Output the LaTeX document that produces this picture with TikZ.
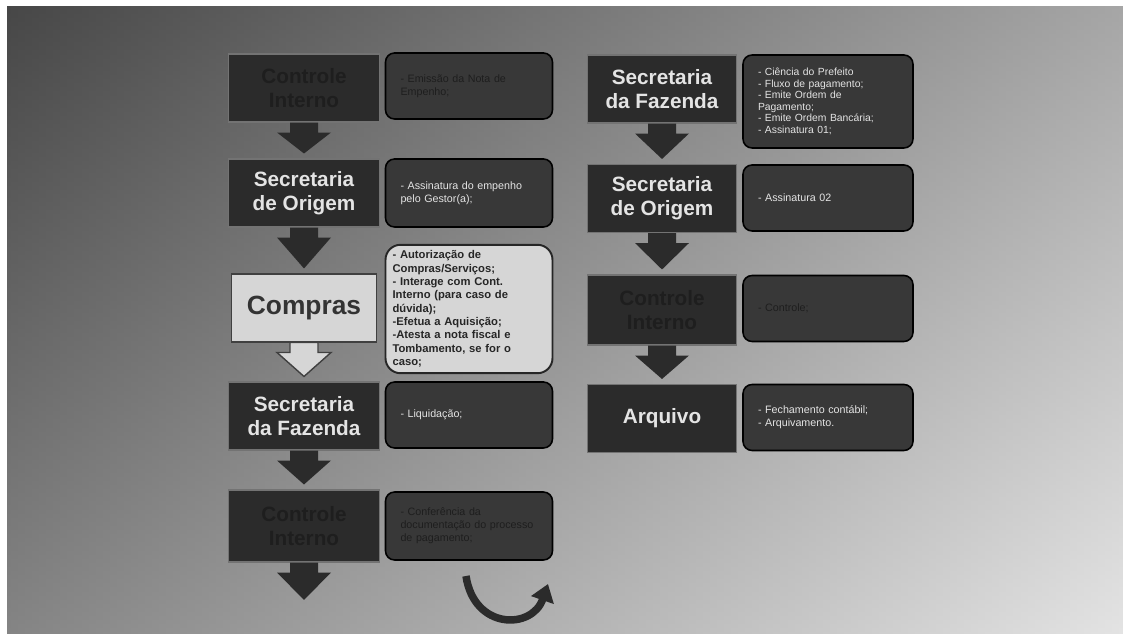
\documentclass[tikz,border=0pt]{standalone}
\usepackage{fontspec}
\setmainfont{Liberation Sans}
\usetikzlibrary{calc,arrows.meta,positioning}

\definecolor{stagefill}{HTML}{2B2B2B}
\definecolor{notefill}{HTML}{383838}
\definecolor{lightfill}{HTML}{D6D6D6}
\definecolor{paletext}{HTML}{E4E4E4}
\definecolor{hiddentext}{HTML}{1E1E1E}

\tikzset{
  stage/.style={rectangle, fill=stagefill, draw=black!55, line width=0.6pt,
    minimum width=3.02cm, minimum height=1.36cm, align=center, text=paletext,
    font=\fontsize{11.8}{13.8}\selectfont\bfseries},
  note/.style={rectangle, rounded corners=0.18cm, fill=notefill, draw=black,
    line width=0.9pt, minimum width=3.34cm, minimum height=1.32cm,
    inner xsep=0.3cm, text width=2.74cm, align=left, text=paletext,
    font=\fontsize{6.1}{7.3}\selectfont},
  lightnote/.style={note, fill=lightfill, draw=black!85, line width=1.1pt,
    rounded corners=0.3cm, inner xsep=0.14cm, text width=3.06cm, text=black!85,
    font=\fontsize{6.4}{7.6}\selectfont\bfseries},
  flowarrow/.style={fill=stagefill},
  lightarrow/.style={fill=lightfill, draw=black!75, line width=0.8pt},
}

% block arrow from the bottom of #2 down to the top of #3
\newcommand{\blockdown}[3][flowarrow]{%
  \path[#1] ($(#2.south)+(-14,0)$) -- ++(0,10) -- ++(-13,0)
    -- ($(#3)+(0,-5)$) -- ($(#2.south)+(27,10)$) -- ++(-13,0) -- ++(0,-10) -- cycle;}

\begin{document}
\begin{tikzpicture}[x=0.02cm, y=-0.02cm]
    \useasboundingbox (0,0) rectangle (1123,634);
    \fill[white] (0,0) rectangle (1123,634);
    \shade[left color=black!80, right color=black!18] (7,7) rectangle (1123,634);
    \shade[top color=black!60, bottom color=white, opacity=0.4] (7,7) rectangle (1123,634);

    % left column
    \node[stage, text=hiddentext] (lci) at (304,88) {Controle\\Interno};
    \node[note, text=hiddentext] (lcinote) at (469,86) {- Emissão da Nota de\\Empenho;};

    \node[stage] (lorig) at (304,193) {Secretaria\\de Origem};
    \node[note, minimum height=1.36cm] (lorignote) at (469,193) {- Assinatura do empenho\\pelo Gestor(a);};

    \node[stage, fill=lightfill, draw=black!75, text=black!80, minimum width=2.9cm,
      font=\fontsize{15}{17}\selectfont\bfseries] (comp) at (304,308) {Compras};
    \node[lightnote, minimum height=2.52cm] (compnote) at (469,309)
      {- Autorização de\\Compras/Serviços;\\- Interage com Cont.\\Interno (para caso de\\dúvida);\\-Efetua a Aquisição;\\-Atesta a nota fiscal e\\Tombamento, se for o\\caso;};

    \node[stage] (lfaz) at (304,416) {Secretaria\\da Fazenda};
    \node[note] (lfaznote) at (469,415) {- Liquidação;};

    \node[stage, text=hiddentext, minimum height=1.44cm] (lci2) at (304,526) {Controle\\Interno};
    \node[note, text=hiddentext, minimum height=1.36cm] (lci2note) at (469,526) {- Conferência da\\documentação do processo\\de pagamento;};
    \coordinate (lend) at (304,605);

    % right column
    \node[stage, minimum width=2.98cm] (rfaz) at (662,89) {Secretaria\\da Fazenda};
    \node[note, minimum width=3.4cm, text width=2.8cm, minimum height=1.86cm,
      font=\fontsize{5.9}{6.6}\selectfont] (rfaznote) at (828,101.5)
      {- Ciência do Prefeito\\- Fluxo de pagamento;\\- Emite Ordem de\\Pagamento;\\- Emite Ordem Bancária;\\- Assinatura 01;};

    \node[stage, minimum width=2.98cm] (rorig) at (662,198.5) {Secretaria\\de Origem};
    \node[note, minimum width=3.4cm, text width=2.8cm] (rorignote) at (828,198) {- Assinatura 02};

    \node[stage, minimum width=2.98cm, minimum height=1.4cm, text=hiddentext] (rci) at (662,310) {Controle\\Interno};
    \node[note, minimum width=3.4cm, text width=2.8cm, text=hiddentext] (rcinote) at (828,308.5) {- Controle;};

    \node[stage, minimum width=2.98cm] (rarq) at (662,418.5) {Arquivo};
    \node[note, minimum width=3.4cm, text width=2.8cm] (rarqnote) at (828,417.5) {- Fechamento contábil;\\- Arquivamento.};

    % arrows
    \blockdown{lci}{lorig.north}
    \blockdown{lorig}{comp.north}
    \blockdown[lightarrow]{comp}{lfaz.north}
    \blockdown{lfaz}{lci2.north}
    \blockdown{lci2}{lend}
    \blockdown{rfaz}{rorig.north}
    \blockdown{rorig}{rci.north}
    \blockdown{rci}{rarq.north}

    % return arrow
    \coordinate (loopstart) at (466,576);
    \coordinate (loopend) at (548,584);
    \draw[stagefill, line width=0.15cm, -{Triangle[length=0.34cm,width=0.46cm]}]
      (loopstart) .. controls (474,630) and (532,630) .. (loopend);
\end{tikzpicture}
\end{document}
